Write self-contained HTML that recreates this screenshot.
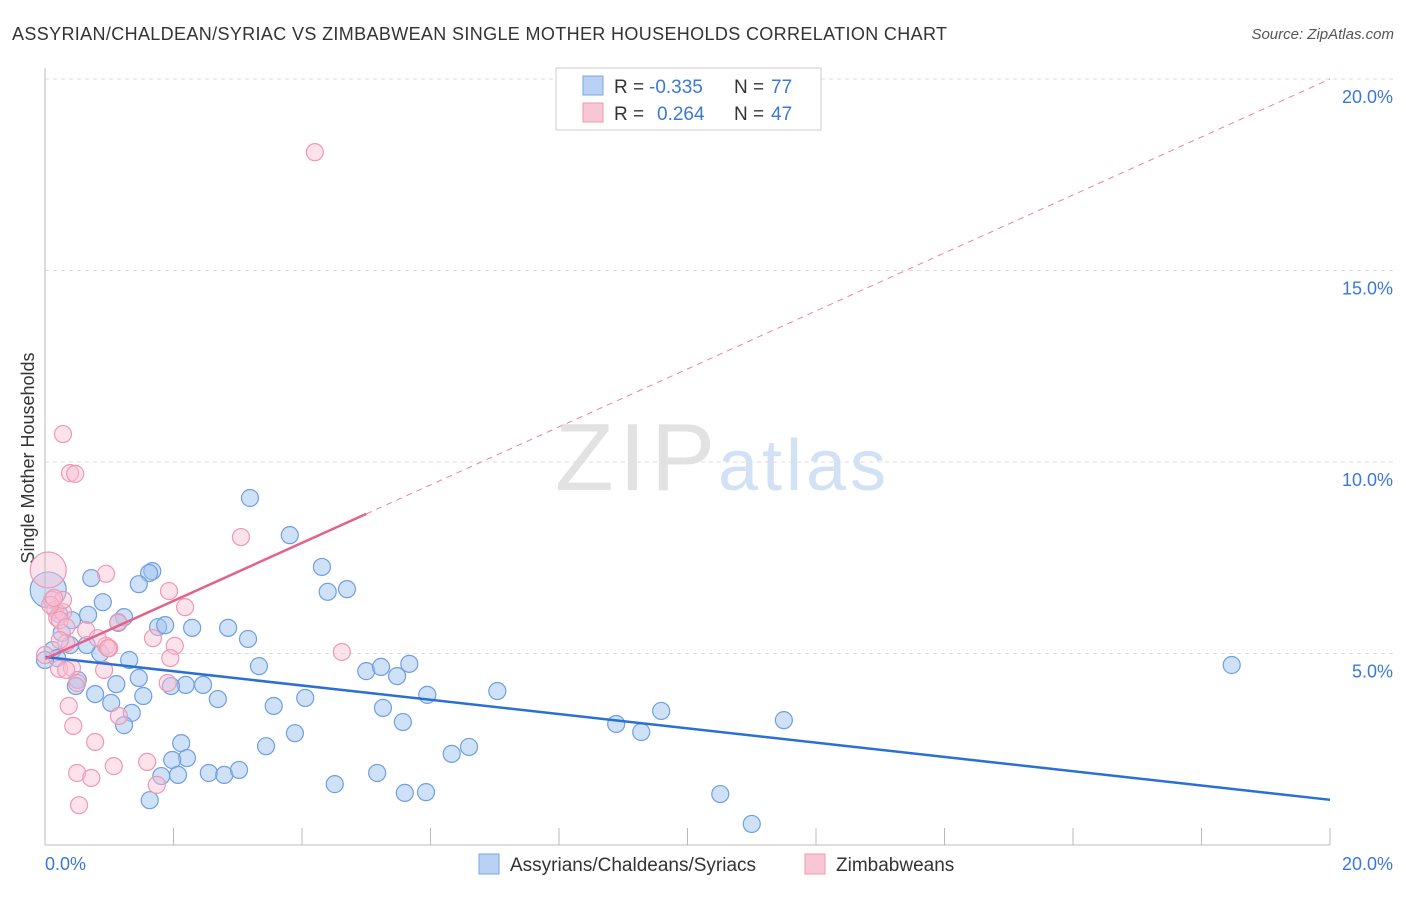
<!DOCTYPE html>
<html><head><meta charset="utf-8"><style>
body{margin:0;background:#fff;font-family:"Liberation Sans",sans-serif;}
svg text{font-family:"Liberation Sans",sans-serif;}
</style></head><body>
<svg id="chart" width="1406" height="892">
<text x="12" y="40" font-size="18" fill="#333" textLength="935">ASSYRIAN/CHALDEAN/SYRIAC VS ZIMBABWEAN SINGLE MOTHER HOUSEHOLDS CORRELATION CHART</text>
<text x="1394" y="39" font-size="15" fill="#555" font-style="italic" text-anchor="end">Source: ZipAtlas.com</text>
<text x="34" y="458" font-size="18" fill="#333" text-anchor="middle" transform="rotate(-90 34 458)">Single Mother Households</text>
<text x="555" y="490" font-size="96" fill="#e2e2e2" font-family="Liberation Serif" textLength="160">ZIP</text>
<text x="718" y="490" font-size="72" fill="#d2e2f4" textLength="168">atlas</text>
<g id="grid"></g><g id="pts"></g><g id="lines"></g>
<line x1="45" y1="68" x2="45" y2="845" stroke="#bbb"/>
<line x1="45" y1="845" x2="1330" y2="845" stroke="#bbb"/>
<text x="45" y="870" font-size="18" fill="#3a78d8">0.0%</text>
<text x="1393" y="870" font-size="18" fill="#3a78d8" text-anchor="end">20.0%</text>
<g>
<rect x="556" y="68" width="265" height="62" fill="#fff" stroke="#ccc"/>
<rect x="583" y="76" width="20" height="19" fill="#b9d1f3" stroke="#7aa6e4"/>
<rect x="583" y="103" width="20" height="19" fill="#f8c6d5" stroke="#ec9ab2"/>
<text x="614" y="93" font-size="19" fill="#333">R =</text>
<text x="649" y="93" font-size="19" fill="#3a78d8">-0.335</text>
<text x="734" y="93" font-size="19" fill="#333">N =</text>
<text x="771" y="93" font-size="19" fill="#3a78d8">77</text>
<text x="614" y="120" font-size="19" fill="#333">R =</text>
<text x="657" y="120" font-size="19" fill="#3a78d8">0.264</text>
<text x="734" y="120" font-size="19" fill="#333">N =</text>
<text x="771" y="120" font-size="19" fill="#3a78d8">47</text>
</g>
<g>
<rect x="479" y="854" width="20" height="20" fill="#b9d1f3" stroke="#7aa6e4"/>
<text x="510" y="871" font-size="19" fill="#333">Assyrians/Chaldeans/Syriacs</text>
<rect x="805" y="854" width="20" height="20" fill="#f8c6d5" stroke="#ec9ab2"/>
<text x="836" y="871" font-size="19" fill="#333">Zimbabweans</text>
</g>
</svg>
<script>
const yTicks=[5,10,15,20];
const xTickCount=[0,2,4,6,8,10,12,14,16,18,20];
const bluePx=[[250,498],[290,535],[322,567],[328,592],[347,589],[152,571],[149,573],[91,578],[139,584],[103,602],[124,617],[88,615],[72,620],[118,623],[158,627],[165,625],[192,628],[228,628],[248,639],[259,666],[366,671],[381,667],[397,676],[409,664],[497,691],[427,695],[305,698],[274,706],[218,699],[186,685],[203,685],[171,686],[143,696],[116,684],[95,694],[111,703],[132,713],[124,725],[129,660],[100,653],[87,645],[70,645],[62,633],[53,650],[57,658],[78,680],[76,686],[59,614],[48,590],[1232,665],[661,711],[616,724],[641,732],[784,720],[383,708],[403,722],[295,733],[266,746],[181,743],[187,758],[172,760],[178,775],[161,776],[209,773],[224,775],[239,770],[150,800],[469,747],[452,754],[377,773],[335,784],[405,793],[426,792],[720,794],[752,824],[139,678],[45,660]];
const pinkPx=[[315,152],[63,434],[70,473],[75,474],[241,537],[106,574],[169,591],[185,607],[48,570],[52,600],[55,610],[57,618],[63,612],[86,630],[106,646],[109,648],[98,638],[118,622],[153,638],[175,646],[170,658],[342,652],[63,600],[60,620],[66,627],[59,669],[72,668],[104,670],[119,716],[77,683],[69,706],[73,726],[95,742],[114,766],[77,773],[91,778],[147,762],[157,785],[79,805],[168,683],[66,643],[108,648],[66,670],[50,605],[54,598],[60,640],[45,655]];
const blueX=bluePx.map(p=>+((p[0]-45)/64.25).toFixed(2));
const blueY=bluePx.map(p=>+((845-p[1])/38.3).toFixed(2));
const pinkX=pinkPx.map(p=>+((p[0]-45)/64.25).toFixed(2));
const pinkY=pinkPx.map(p=>+((845-p[1])/38.3).toFixed(2));
const blueTrend=[4.91,1.18];
const pinkTrend=[4.86,20.0];
const pinkSolidEnd=5.0;
const sx=v=>45+v*64.25, sy=v=>845-v*38.3;
const NS='http://www.w3.org/2000/svg';
function mk(t,a,p){const e=document.createElementNS(NS,t);for(const k in a)e.setAttribute(k,a[k]);p.appendChild(e);return e;}
const grid=document.getElementById('grid');
yTicks.forEach(v=>{
 const l=mk('line',{x1:45,x2:1394,y1:sy(v),y2:sy(v),stroke:'#ddd','stroke-dasharray':'4,4'},grid);
 
 
 const t=mk('text',{x:1393,y:sy(v)+24,'font-size':18,fill:'#3a78d8','text-anchor':'end'},grid);
 t.textContent=v.toFixed(1)+'%';
 
 
});
xTickCount.forEach(v=>{if(v===0)return;
 const l=mk('line',{x1:sx(v),x2:sx(v),y1:828,y2:845,stroke:'#bbb'},grid);
 
 
});
const pts=document.getElementById('pts');
blueX.forEach((x,i)=>{
 const r=(i===48)?18:8.5;
 const c=mk('circle',{cx:sx(x),cy:sy(blueY[i]),r:r,fill:'rgba(160,195,240,0.5)',stroke:'#6f9fe0','stroke-width':1.2},pts);
 
 
});
pinkX.forEach((x,i)=>{
 const r=(i===8)?18:8.5;
 const c=mk('circle',{cx:sx(x),cy:sy(pinkY[i]),r:r,fill:'rgba(248,190,210,0.45)',stroke:'#ee99b4','stroke-width':1.2},pts);
 
 
});
const lines=document.getElementById('lines');
const bl=mk('line',{x1:sx(0),y1:sy(blueTrend[0]),x2:sx(20),y2:sy(blueTrend[1]),stroke:'#2a6fd6','stroke-width':2.5},lines);


const py=x=>pinkTrend[0]+(pinkTrend[1]-pinkTrend[0])*x/20;
const pd=mk('line',{x1:sx(pinkSolidEnd),y1:sy(py(pinkSolidEnd)),x2:sx(20),y2:sy(py(20)),stroke:'#e9849f','stroke-width':1,'stroke-dasharray':'6,5'},lines);


const ps=mk('line',{x1:sx(0),y1:sy(py(0)),x2:sx(pinkSolidEnd),y2:sy(py(pinkSolidEnd)),stroke:'#e4628a','stroke-width':2.5},lines);


</script>
</body></html>
